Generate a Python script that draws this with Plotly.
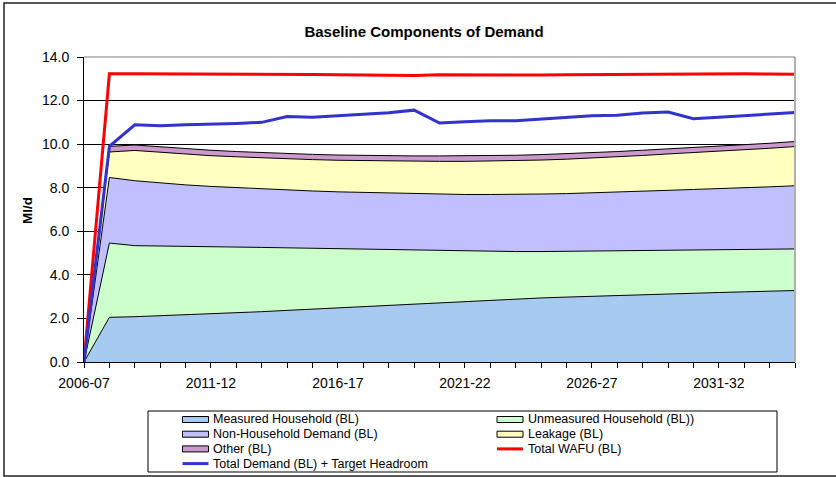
import plotly.graph_objects as go

years = ["2006-07", "2007-08", "2008-09", "2009-10", "2010-11", "2011-12", "2012-13",
         "2013-14", "2014-15", "2015-16", "2016-17", "2017-18", "2018-19", "2019-20",
         "2020-21", "2021-22", "2022-23", "2023-24", "2024-25", "2025-26", "2026-27",
         "2027-28", "2028-29", "2029-30", "2030-31", "2031-32", "2032-33", "2033-34",
         "2034-35"]
tick_labels = ["2006-07", "2011-12", "2016-17", "2021-22", "2026-27", "2031-32"]

measured = [0, 2.05, 2.08, 2.12, 2.16, 2.21, 2.26, 2.31, 2.37, 2.43, 2.49, 2.55, 2.61, 2.67,
            2.73, 2.78, 2.84, 2.89, 2.94, 2.98, 3.02, 3.06, 3.10, 3.13, 3.16, 3.19, 3.22,
            3.25, 3.28]
unmeasured = [0, 3.41, 3.26, 3.21, 3.16, 3.09, 3.02, 2.95, 2.87, 2.79, 2.71, 2.63, 2.55, 2.46,
              2.38, 2.31, 2.24, 2.18, 2.13, 2.10, 2.07, 2.04, 2.01, 1.99, 1.97, 1.95, 1.94,
              1.92, 1.91]
non_household = [0, 3.01, 2.98, 2.89, 2.81, 2.76, 2.72, 2.69, 2.66, 2.63, 2.61, 2.60, 2.59,
                 2.59, 2.59, 2.60, 2.61, 2.62, 2.64, 2.65, 2.67, 2.70, 2.73, 2.76, 2.79, 2.81,
                 2.83, 2.87, 2.90]
leakage = [0, 1.17, 1.39, 1.40, 1.41, 1.41, 1.42, 1.42, 1.43, 1.44, 1.45, 1.46, 1.47, 1.49,
           1.51, 1.52, 1.53, 1.55, 1.56, 1.58, 1.60, 1.62, 1.64, 1.67, 1.69, 1.72, 1.75,
           1.77, 1.80]
other = [0, 0.26, 0.25, 0.25, 0.25, 0.25, 0.24, 0.24, 0.24, 0.24, 0.24, 0.24, 0.25, 0.25,
         0.25, 0.25, 0.25, 0.25, 0.25, 0.25, 0.25, 0.24, 0.24, 0.23, 0.23, 0.23, 0.23,
         0.23, 0.23]
total_wafu = [0, 13.23, 13.23, 13.23, 13.22, 13.22, 13.21, 13.21, 13.20, 13.20, 13.19, 13.18,
              13.17, 13.15, 13.19, 13.18, 13.17, 13.17, 13.17, 13.18, 13.19, 13.20, 13.20,
              13.21, 13.22, 13.23, 13.23, 13.22, 13.21]
total_demand_headroom = [0, 9.90, 10.89, 10.85, 10.89, 10.91, 10.95, 11.00, 11.27, 11.23,
                         11.29, 11.36, 11.44, 11.56, 10.97, 11.03, 11.07, 11.07, 11.15, 11.23,
                         11.30, 11.33, 11.43, 11.47, 11.17, 11.24, 11.30, 11.38, 11.45]

FONT = "Liberation Sans, Arial, sans-serif"

area_series = [
    ("Measured Household (BL)", measured, "#A6CAF0"),
    ("Unmeasured Household (BL))", unmeasured, "#CCFFCC"),
    ("Non-Household Demand (BL)", non_household, "#C0C0FF"),
    ("Leakage (BL)", leakage, "#FFFFC0"),
    ("Other (BL)", other, "#CC99CC"),
]
line_series = [
    ("Total WAFU (BL)", total_wafu, "#FF0000"),
    ("Total Demand (BL) + Target Headroom", total_demand_headroom, "#3333CC"),
]

fig = go.Figure()
for name, vals, col in area_series:
    fig.add_trace(go.Scatter(
        x=years, y=vals, name=name, mode="lines", stackgroup="demand",
        line=dict(color="black", width=1), fillcolor=col, showlegend=False))
for name, vals, col in line_series:
    fig.add_trace(go.Scatter(x=years, y=vals, name=name, mode="lines",
                             line=dict(color=col, width=3), showlegend=False))

W, H = 836, 477
L, R, T, B = 84, 795, 57, 362
pw, ph = R - L, B - T


def px(x):
    return (x - L) / pw


def py(y):
    return (B - y) / ph


shapes = [
    dict(type="rect", xref="paper", yref="paper", x0=px(4), x1=px(845), y0=py(476),
         y1=py(3), line=dict(color="#222222", width=1.5), layer="below"),
    dict(type="line", xref="paper", yref="paper", x0=1, x1=1, y0=0, y1=1,
         line=dict(color="#B0B0B0", width=2)),
    dict(type="line", xref="paper", yref="paper", x0=0, x1=1, y0=1, y1=1,
         line=dict(color="#808080", width=1)),
    # legend box
    dict(type="rect", xref="paper", yref="paper", x0=px(148), x1=px(777), y0=py(472),
         y1=py(411), line=dict(color="black", width=1), fillcolor="white"),
]
annotations = [dict(text="<b>Ml/d</b>", x=px(27), y=py(210), xref="paper", yref="paper",
                    showarrow=False, textangle=-90, font=dict(size=13.5, family=FONT),
                    xanchor="center", yanchor="middle")]

# manual legend (Excel-style compact layout: two columns)
legend_entries = [(n, "area", c) for n, _, c in area_series] + \
                 [(n, "line", c) for n, _, c in line_series]
col_sw_x = [182.5, 497]
col_tx_x = [211, 525.5]
row_y0, row_dy = 419.5, 14.7
for i, (name, kind, col) in enumerate(legend_entries):
    r, c = divmod(i, 2)
    yc = row_y0 + r * row_dy
    x0 = col_sw_x[c]
    if kind == "area":
        shapes.append(dict(type="rect", xref="paper", yref="paper", x0=px(x0),
                           x1=px(x0 + 26), y0=py(yc + 3), y1=py(yc - 3),
                           fillcolor=col, line=dict(color="black", width=1)))
    else:
        shapes.append(dict(type="line", xref="paper", yref="paper", x0=px(x0),
                           x1=px(x0 + 26), y0=py(yc), y1=py(yc),
                           line=dict(color=col, width=3)))
    annotations.append(dict(text=name, x=px(col_tx_x[c]), y=py(yc), xref="paper",
                            yref="paper", showarrow=False, xanchor="left",
                            yanchor="middle", font=dict(size=12.5, family=FONT)))

fig.update_layout(
    width=W, height=H,
    margin=dict(l=L, r=W - R, t=T, b=H - B, autoexpand=False),
    paper_bgcolor="white", plot_bgcolor="white",
    font=dict(family=FONT, size=12, color="black"),
    showlegend=False,
    title=dict(text="<b>Baseline Components of Demand</b>", x=424 / W, xref="container",
               xanchor="center", y=1 - 32 / H, yref="container", yanchor="middle",
               font=dict(size=15, family=FONT, color="black")),
    xaxis=dict(type="category", range=[0, len(years) - 1], tickmode="array",
               tickvals=years, ticktext=[y if y in tick_labels else "" for y in years],
               ticks="outside", ticklen=5, tickcolor="black", showline=True,
               linecolor="black", linewidth=1, showgrid=False, zeroline=False,
               tickfont=dict(size=14, family=FONT), tickangle=0, ticklabelstandoff=3),
    yaxis=dict(range=[0, 14], dtick=2, tickformat=".1f", ticks="outside", ticklen=6,
               tickcolor="black", showline=True, linecolor="black", linewidth=1,
               showgrid=True, gridcolor="black", gridwidth=1, zeroline=False,
               tickfont=dict(size=14, family=FONT), ticklabelstandoff=5),
    annotations=annotations,
    shapes=shapes,
)

fig.write_html("out.html", config={"displayModeBar": False},
               post_script="document.body.style.margin='0';")
